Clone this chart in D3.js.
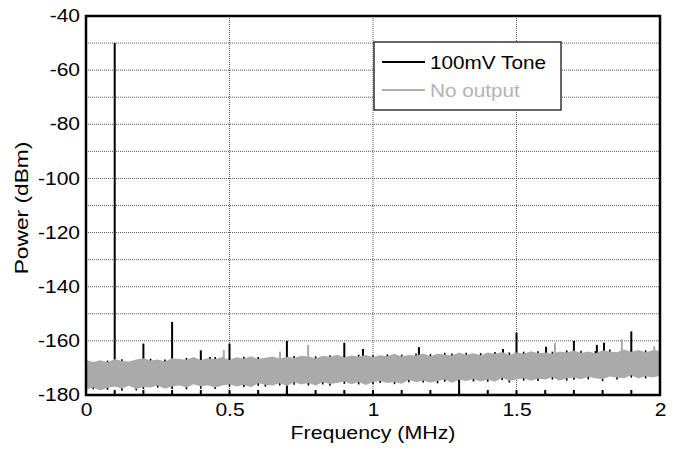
<!DOCTYPE html>
<html>
<head>
<meta charset="utf-8">
<script src="https://cdn.jsdelivr.net/npm/d3@7"></script>
<style>
  body { margin: 0; background: #fff; }
  text { font-family: "Liberation Sans", Arial, sans-serif; }
</style>
</head>
<body>
<div id="chart"></div>
<script>
// noise floor, sampled every 0.025 MHz from 0 to 2 MHz (dBm)
var freqStep = 0.025;
var grayTop = [-167.1,-167.8,-167.2,-167.9,-166.7,-167.4,-167.6,-166.9,-166.4,-167.3,
  -166.9,-167.6,-166.4,-166.7,-167.0,-166.0,-167.1,-166.4,-166.7,-166.0,
  -167.1,-166.1,-166.6,-165.7,-166.7,-166.2,-165.8,-166.6,-165.9,-166.3,
  -165.5,-165.8,-166.5,-165.5,-165.9,-165.1,-166.1,-165.4,-165.8,-165.2,
  -166.0,-165.3,-165.7,-164.8,-165.8,-165.2,-165.4,-164.7,-165.7,-164.8,
  -165.0,-165.4,-164.3,-165.1,-164.6,-165.3,-164.3,-164.8,-164.1,-165.2,
  -164.3,-164.8,-163.8,-164.6,-164.3,-164.8,-163.9,-164.3,-163.6,-164.5,
  -163.9,-164.6,-163.5,-163.9,-164.2,-163.2,-164.0,-163.4,-164.2,-163.5,
  -163.7];
var grayBottom = [-178.1,-177.2,-178.3,-177.3,-176.9,-177.6,-176.6,-177.8,-177.0,-177.2,
  -176.5,-177.7,-176.9,-176.5,-177.2,-176.0,-176.9,-176.4,-177.2,-176.5,
  -176.0,-176.9,-176.2,-177.1,-175.7,-176.2,-176.5,-175.7,-176.7,-175.3,
  -176.1,-175.6,-176.5,-175.3,-175.9,-175.6,-175.0,-176.0,-175.2,-176.3,
  -175.2,-174.8,-175.6,-175.2,-175.8,-174.4,-175.3,-174.6,-175.5,-174.8,
  -174.3,-175.5,-174.4,-174.8,-174.1,-175.0,-174.3,-175.1,-173.6,-174.7,
  -174.3,-173.8,-174.7,-173.9,-174.3,-173.4,-174.7,-173.8,-173.6,-174.2,
  -173.3,-173.8,-174.2,-173.2,-173.5,-173.8,-172.7,-173.9,-173.1,-173.5,
  -172.9];
var blackTop = [-166.6,-168.2,-167.6,-167.3,-167.2,-166.8,-168.0,-167.3,-166.9,-166.6,
  -167.4,-166.9,-166.9,-167.1,-166.3,-166.5,-166.5,-166.9,-166.0,-166.4,
  -166.3,-166.6,-165.9,-166.2,-166.0,-166.6,-166.3,-165.8,-166.3,-165.6,
  -166.0,-166.2,-165.7,-165.9,-165.3,-165.6,-165.4,-165.8,-165.1,-165.7,
  -165.3,-165.7,-165.0,-165.3,-165.1,-165.6,-164.7,-165.1,-164.9,-165.2,
  -164.4,-164.7,-164.8,-164.4,-165.0,-164.5,-164.7,-164.1,-164.5,-164.3,
  -164.7,-164.0,-164.2,-163.8,-164.7,-164.0,-164.3,-163.5,-164.0,-163.7,
  -164.3,-163.8,-163.9,-163.2,-164.6,-163.6,-163.2,-163.8,-163.5,-163.9,
  -163.1];
var blackBottom = [-178.7,-177.9,-177.9,-178.1,-176.5,-178.4,-176.2,-178.3,-177.8,-176.8,
  -177.3,-177.3,-177.8,-176.1,-177.9,-175.6,-177.7,-176.0,-177.8,-176.1,
  -176.9,-176.5,-177.0,-176.7,-176.6,-176.9,-176.1,-176.5,-176.3,-176.2,
  -175.7,-176.5,-176.1,-176.1,-176.6,-175.2,-175.9,-175.6,-176.1,-175.9,
  -175.9,-175.6,-175.2,-176.0,-175.4,-175.3,-174.9,-175.4,-175.1,-175.7,
  -175.1,-175.1,-175.2,-174.4,-175.0,-174.6,-175.1,-174.7,-174.5,-175.4,
  -173.9,-174.7,-174.3,-174.8,-173.9,-174.3,-174.3,-174.7,-174.4,-173.8,
  -174.2,-173.4,-174.9,-172.8,-174.3,-173.4,-173.6,-173.5,-173.9,-173.1,
  -173.7];

// spurs [MHz, dBm]
var toneSpurs = [[0.1,-50],[0.2,-161],[0.3,-153],[0.4,-163.5],[0.432,-166],[0.5,-161],
  [0.7,-160],[0.9,-160.7],[0.965,-163],[1.16,-162.3],[1.453,-163],[1.5,-157],
  [1.603,-162.2],[1.7,-160],[1.78,-161.5],[1.805,-160.7],[1.9,-156.5]];
var toneDips = [[0.7,-179.6],[1.3,-179.6]];
var noOutSpurs = [[0.48,-163.4],[0.676,-164],[0.774,-161.5],[1.634,-160.7],[1.867,-159.4],[1.98,-162]];

var xTicks = [0, 0.5, 1, 1.5, 2];
var xMinor = d3.range(1, 20).map(function (i) { return i / 10; });
var yTicks = [-40, -60, -80, -100, -120, -140, -160, -180];
var yGrid = d3.range(-170, -40, 10);
var seriesNames = ["100mV Tone", "No output"];
var seriesColors = ["#000000", "#aaaaaa"];

var width = 679, height = 450;
var svg = d3.select("#chart").append("svg")
    .attr("width", width)
    .attr("height", height);

var x = d3.scaleLinear().domain([0, 2]).range([86, 660]);
var y = d3.scaleLinear().domain([-180, -40]).range([395, 16]);

// stretch text horizontally, the original font is wide
function widen(sel, k) {
    sel.each(function () {
        var w = this.getComputedTextLength();
        d3.select(this).attr("textLength", w * k).attr("lengthAdjust", "spacingAndGlyphs");
    });
}

// grid
svg.append("g").selectAll("line")
    .data(yGrid)
    .enter().append("line")
    .attr("x1", x(0)).attr("x2", x(2))
    .attr("y1", function (d) { return y(d); })
    .attr("y2", function (d) { return y(d); })
    .attr("stroke", "#555")
    .attr("stroke-dasharray", "1,1");
svg.append("g").selectAll("line")
    .data([0.5, 1, 1.5])
    .enter().append("line")
    .attr("y1", y(-180)).attr("y2", y(-40))
    .attr("x1", function (d) { return x(d); })
    .attr("x2", function (d) { return x(d); })
    .attr("stroke", "#555")
    .attr("stroke-dasharray", "1,1");

var plot = svg.append("g");

// 100mV tone (black) underneath
var blackPts = blackTop.map(function (t, i) { return { f: i * freqStep, t: t, b: blackBottom[i] }; });
plot.selectAll(".stem").data(blackPts).enter().append("line")
    .attr("x1", function (d) { return x(d.f); })
    .attr("x2", function (d) { return x(d.f); })
    .attr("y1", function (d) { return y(d.b); })
    .attr("y2", function (d) { return y(d.t); })
    .attr("stroke", seriesColors[0]).attr("stroke-width", 1.6);
plot.selectAll(".spur").data(toneSpurs).enter().append("line")
    .attr("x1", function (d) { return x(d[0]); })
    .attr("x2", function (d) { return x(d[0]); })
    .attr("y1", y(-170))
    .attr("y2", function (d) { return y(d[1]); })
    .attr("stroke", seriesColors[0]).attr("stroke-width", 2);
plot.selectAll(".dip").data(toneDips).enter().append("line")
    .attr("x1", function (d) { return x(d[0]); })
    .attr("x2", function (d) { return x(d[0]); })
    .attr("y1", y(-172))
    .attr("y2", function (d) { return y(d[1]); })
    .attr("stroke", seriesColors[0]).attr("stroke-width", 2);

// no output (gray) on top
var grayPts = grayTop.map(function (t, i) { return { f: i * freqStep, t: t, b: grayBottom[i] }; });
var area = d3.area()
    .x(function (d) { return x(d.f); })
    .y0(function (d) { return y(d.b); })
    .y1(function (d) { return y(d.t); });
plot.append("path").attr("d", area(grayPts)).attr("fill", seriesColors[1]);
plot.selectAll(".gspur").data(noOutSpurs).enter().append("line")
    .attr("x1", function (d) { return x(d[0]); })
    .attr("x2", function (d) { return x(d[0]); })
    .attr("y1", y(-168))
    .attr("y2", function (d) { return y(d[1]); })
    .attr("stroke", seriesColors[1]).attr("stroke-width", 2);

// minor ticks on bottom axis
svg.append("g").selectAll("line")
    .data(xMinor)
    .enter().append("line")
    .attr("x1", function (d) { return x(d); })
    .attr("x2", function (d) { return x(d); })
    .attr("y1", y(-180)).attr("y2", y(-180) - 5)
    .attr("stroke", "#000").attr("stroke-width", 2);

// frame
svg.append("rect")
    .attr("x", x(0)).attr("y", y(-40))
    .attr("width", x(2) - x(0)).attr("height", y(-180) - y(-40))
    .attr("fill", "none").attr("stroke", "#000").attr("stroke-width", 2.5);

// tick labels
var xAxis = d3.axisBottom(x).tickValues(xTicks).tickSize(0).tickPadding(9)
    .tickFormat(function (d) { return String(d); });
var gx = svg.append("g").attr("transform", "translate(0," + y(-180) + ")").call(xAxis);
gx.select(".domain").remove();
gx.selectAll("text").attr("font-size", 17.5).attr("fill", "#000")
    .style("font-family", "Liberation Sans, Arial, sans-serif");
widen(gx.selectAll("text"), 1.2);

var yAxis = d3.axisLeft(y).tickValues(yTicks).tickSize(0).tickPadding(6)
    .tickFormat(function (d) { return String(d); });
var gy = svg.append("g").attr("transform", "translate(" + x(0) + ",0)").call(yAxis);
gy.select(".domain").remove();
gy.selectAll("text").attr("font-size", 17.5).attr("fill", "#000")
    .style("font-family", "Liberation Sans, Arial, sans-serif");
widen(gy.selectAll("text"), 1.2);

// axis titles
var xt = svg.append("text")
    .attr("x", (x(0) + x(2)) / 2).attr("y", 439)
    .attr("text-anchor", "middle").attr("font-size", 17.5)
    .text("Frequency (MHz)");
widen(xt, 1.22);
var yt = svg.append("text")
    .attr("transform", "translate(28,208) rotate(-90)")
    .attr("text-anchor", "middle").attr("font-size", 17.5)
    .text("Power (dBm)");
widen(yt, 1.3);

// legend
var lg = svg.append("g");
lg.append("rect")
    .attr("x", 374).attr("y", 42).attr("width", 187).attr("height", 68)
    .attr("fill", "#fff").attr("stroke", "#333").attr("stroke-width", 1.5);
seriesNames.forEach(function (name, i) {
    var ly = 62 + i * 28;
    lg.append("line")
        .attr("x1", 382).attr("x2", 425).attr("y1", ly).attr("y2", ly)
        .attr("stroke", i === 0 ? "#000" : "#b0b0b0").attr("stroke-width", 2);
    var t = lg.append("text")
        .attr("x", 430).attr("y", ly + 7)
        .attr("font-size", 18.5)
        .attr("fill", i === 0 ? "#000" : "#b4b4b4")
        .text(name);
    widen(t, 1.12);
});
</script>
</body>
</html>
